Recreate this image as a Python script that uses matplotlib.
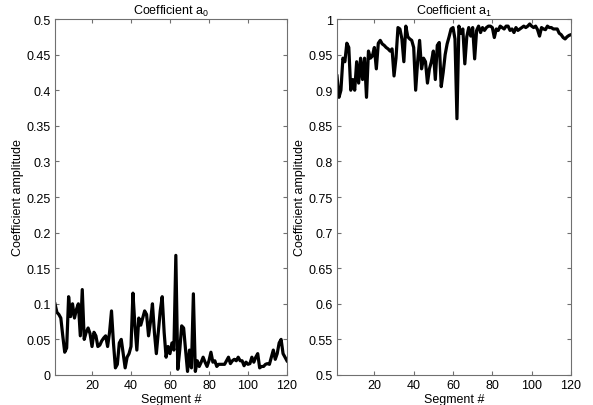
import numpy as np
import matplotlib
matplotlib.use('Agg')
import matplotlib.pyplot as plt

plt.rcParams['font.family'] = ['Liberation Sans', 'DejaVu Sans']
plt.rcParams['mathtext.fontset'] = 'custom'
plt.rcParams['mathtext.rm'] = 'Liberation Sans'
plt.rcParams['mathtext.it'] = 'Liberation Sans'

# coefficient a0 per segment
a0 = [0.100, 0.088, 0.085, 0.080, 0.055, 0.032, 0.038, 0.110, 0.082, 0.100,
      0.080, 0.092, 0.100, 0.055, 0.120, 0.050, 0.060, 0.066, 0.058, 0.040,
      0.060, 0.055, 0.040, 0.042, 0.048, 0.052, 0.055, 0.040, 0.060, 0.090,
      0.045, 0.010, 0.015, 0.045, 0.050, 0.030, 0.010, 0.025, 0.030, 0.040,
      0.115, 0.070, 0.035, 0.080, 0.070, 0.080, 0.090, 0.085, 0.055, 0.075,
      0.100, 0.060, 0.030, 0.060, 0.090, 0.110, 0.060, 0.025, 0.040, 0.030,
      0.045, 0.035, 0.168, 0.008, 0.035, 0.069, 0.066, 0.035, 0.005, 0.035,
      0.010, 0.114, 0.005, 0.020, 0.012, 0.018, 0.025, 0.018, 0.012, 0.020,
      0.032, 0.018, 0.020, 0.012, 0.015, 0.015, 0.015, 0.015, 0.020, 0.025,
      0.016, 0.020, 0.022, 0.020, 0.025, 0.020, 0.020, 0.013, 0.018, 0.015,
      0.016, 0.025, 0.018, 0.025, 0.030, 0.010, 0.012, 0.012, 0.015, 0.016,
      0.015, 0.025, 0.035, 0.022, 0.030, 0.045, 0.050, 0.030, 0.025, 0.020]

# coefficient a1 per segment
a1 = [0.920, 0.890, 0.900, 0.945, 0.940, 0.966, 0.960, 0.900, 0.915, 0.900,
      0.940, 0.910, 0.945, 0.915, 0.945, 0.890, 0.955, 0.945, 0.948, 0.960,
      0.930, 0.966, 0.970, 0.965, 0.963, 0.960, 0.958, 0.955, 0.958, 0.920,
      0.945, 0.988, 0.986, 0.972, 0.940, 0.990, 0.975, 0.972, 0.970, 0.960,
      0.900, 0.940, 0.970, 0.930, 0.945, 0.940, 0.910, 0.930, 0.940, 0.955,
      0.915, 0.963, 0.967, 0.905, 0.925, 0.950, 0.965, 0.975, 0.986, 0.988,
      0.972, 0.860, 0.990, 0.980, 0.986, 0.937, 0.975, 0.988, 0.976, 0.988,
      0.944, 0.984, 0.990, 0.981, 0.988, 0.984, 0.988, 0.990, 0.990, 0.988,
      0.974, 0.986, 0.984, 0.990, 0.988, 0.986, 0.990, 0.990, 0.984, 0.986,
      0.981, 0.988, 0.984, 0.986, 0.988, 0.990, 0.988, 0.990, 0.993, 0.990,
      0.988, 0.990, 0.985, 0.976, 0.988, 0.986, 0.985, 0.990, 0.988, 0.988,
      0.986, 0.986, 0.986, 0.980, 0.978, 0.974, 0.972, 0.975, 0.977, 0.978]

xticks = [20, 40, 60, 80, 100, 120]
yticks0 = [0, 0.05, 0.1, 0.15, 0.2, 0.25, 0.3, 0.35, 0.4, 0.45, 0.5]
yticks1 = [0.5, 0.55, 0.6, 0.65, 0.7, 0.75, 0.8, 0.85, 0.9, 0.95, 1]

fig = plt.figure(figsize=(5.93, 4.06), dpi=100)
ax0 = fig.add_axes([0.0927, 0.0739, 0.3912, 0.8768])
ax1 = fig.add_axes([0.5683, 0.0739, 0.3946, 0.8768])

panels = [(ax0, a0, yticks0, 'Coefficient a$_0$'),
          (ax1, a1, yticks1, 'Coefficient a$_1$')]

for ax, vals, yt, title in panels:
    x = np.arange(1, len(vals) + 1)
    ax.plot(x, vals, color='black', linewidth=2.3)
    ax.set_xlim(1, 120)
    ax.set_ylim(yt[0], yt[-1])
    ax.set_xticks(xticks)
    ax.set_yticks(yt)
    ax.set_yticklabels(['%g' % v for v in yt])
    ax.tick_params(direction='in', top=True, right=True, length=3,
                   labelsize=9, color='#707070', pad=3)
    for s in ax.spines.values():
        s.set_color('#707070')
        s.set_linewidth(0.8)
    ax.set_title(title, fontsize=9, pad=4)
    ax.set_xlabel('Segment #', fontsize=9, labelpad=1)
    ax.set_ylabel('Coefficient amplitude', fontsize=9, labelpad=2)

plt.savefig('out.png', dpi=100)
